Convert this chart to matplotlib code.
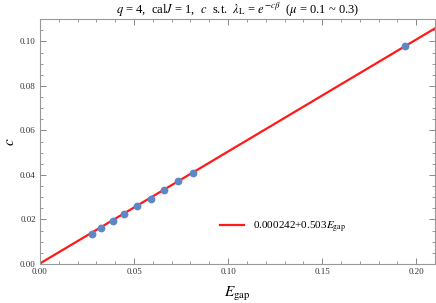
import matplotlib
matplotlib.use("Agg")
import matplotlib.pyplot as plt
import numpy as np
from matplotlib.ticker import MultipleLocator, FormatStrFormatter

plt.rcParams['font.family'] = ['Liberation Serif', 'DejaVu Serif']
plt.rcParams['mathtext.fontset'] = 'stix'

E_gap = [0.0274, 0.0327, 0.0386, 0.0449, 0.0516, 0.0588, 0.0660, 0.0736, 0.0816, 0.1943]
c_vals = [0.01365, 0.0162, 0.0192, 0.0223, 0.0259, 0.0293, 0.0332, 0.0371, 0.0411, 0.0979]
fit_a = 0.000242
fit_b = 0.503

fig = plt.figure(figsize=(4.36, 3.03), dpi=100)
ax = fig.add_axes([0.0917, 0.1287, 0.906, 0.808])

xs = np.array([0.0, 0.21])
ax.plot(xs, fit_a + fit_b * xs, color='#ff1a1a', lw=1.6,
        label=r'0.000242+0.503$E_{\mathrm{gap}}$', zorder=2)
ax.plot(E_gap, c_vals, 'o', color='#5f87c5', ms=4.6, zorder=3)

ax.set_xlim(0, 0.21)
ax.set_ylim(0, 0.11)
ax.xaxis.set_major_locator(MultipleLocator(0.05))
ax.xaxis.set_minor_locator(MultipleLocator(0.01))
ax.yaxis.set_major_locator(MultipleLocator(0.02))
ax.yaxis.set_minor_locator(MultipleLocator(0.005))
ax.xaxis.set_major_formatter(FormatStrFormatter('%.2f'))
ax.yaxis.set_major_formatter(FormatStrFormatter('%.2f'))
ax.tick_params(which='both', direction='in', top=True, right=True,
               color='#888888', labelsize=6.5, labelcolor='#333333', pad=3)
ax.tick_params(which='major', length=4, width=0.7)
ax.tick_params(which='minor', length=2, width=0.6)
for s in ax.spines.values():
    s.set_color('#999999')
    s.set_linewidth(0.8)

ax.set_xlabel(r'$E_{\mathrm{gap}}$', fontsize=11, labelpad=6)
ax.set_ylabel(r'$c$', fontsize=11, labelpad=2)
ax.set_title(r'$q$ = 4,  cal$J$ = 1,  $c$  s.t.  $\lambda_{\mathrm{L}}$ = $e^{-c\beta}$  ($\mu$ = 0.1 ~ 0.3)',
             fontsize=9, pad=3)

ax.legend(loc='center left', bbox_to_anchor=(0.43, 0.15), frameon=False,
          fontsize=8, handlelength=2.2, handletextpad=0.8)

fig.savefig('out.png', dpi=100)
